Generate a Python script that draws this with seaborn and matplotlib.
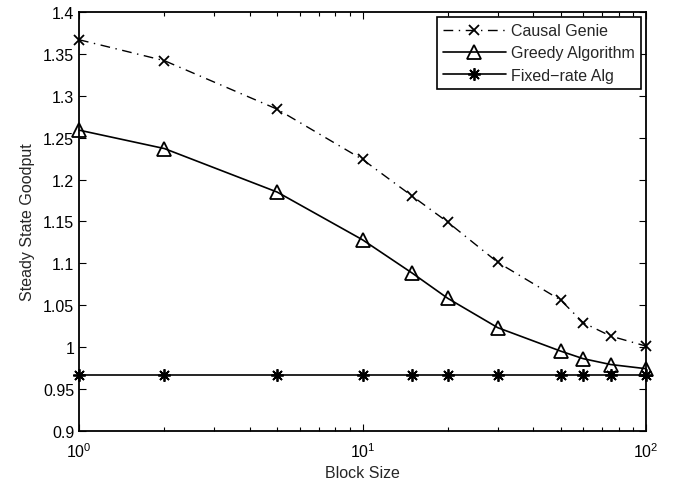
import numpy as np
import pandas as pd
import matplotlib
matplotlib.use("Agg")
import matplotlib.pyplot as plt
import seaborn as sns

block_size = [1, 2, 5, 10, 15, 20, 30, 50, 60, 75, 100]
causal_genie = [1.367, 1.342, 1.284, 1.224, 1.180, 1.149, 1.101, 1.056, 1.029, 1.013, 1.001]
greedy_alg = [1.259, 1.237, 1.185, 1.128, 1.088, 1.058, 1.023, 0.995, 0.986, 0.979, 0.974]
fixed_rate = [0.967] * len(block_size)

sns.set_style("ticks")
plt.rcParams["font.family"] = ["Liberation Sans", "DejaVu Sans"]
plt.rcParams["xtick.direction"] = "in"
plt.rcParams["ytick.direction"] = "in"
plt.rcParams["xtick.top"] = True
plt.rcParams["ytick.right"] = True
plt.rcParams["xtick.minor.visible"] = True

fs = 11.5
fig = plt.figure(figsize=(6.84, 4.85), dpi=100)
ax = fig.add_axes([0.1155, 0.110, 0.829, 0.863])

sns.lineplot(x=block_size, y=causal_genie, ax=ax, color="black", lw=1,
             marker="x", markersize=7, markeredgewidth=1.3, markeredgecolor="black",
             clip_on=False, label="Causal Genie")
ax.lines[-1].set_dashes((7, 4, 1, 4))
sns.lineplot(x=block_size, y=greedy_alg, ax=ax, color="black", lw=1.2,
             marker="^", markersize=10, markerfacecolor="none",
             markeredgecolor="black", markeredgewidth=1.3, clip_on=False,
             label="Greedy Algorithm")
sns.lineplot(x=block_size, y=fixed_rate, ax=ax, color="black", lw=1.2,
             marker=(8, 2, 0), markersize=9, markeredgewidth=1.3,
             markeredgecolor="black", clip_on=False, label="Fixed\u2212rate Alg")

ax.set_xscale("log")
ax.set_xlim(1, 100)
ax.set_ylim(0.9, 1.4)
ax.set_yticks(np.arange(0.9, 1.401, 0.05))
ax.set_yticklabels(["0.9", "0.95", "1", "1.05", "1.1", "1.15", "1.2", "1.25", "1.3", "1.35", "1.4"])
ax.tick_params(which="both", labelsize=fs, colors="black", width=0.8)
ax.tick_params(which="major", length=5)
ax.tick_params(which="minor", length=3)
ax.tick_params(axis="x", which="major", pad=8)
for s in ax.spines.values():
    s.set_linewidth(1.3)
    s.set_color("black")
ax.set_xlabel("Block Size", fontsize=fs, labelpad=3)
ax.set_ylabel("Steady State Goodput", fontsize=fs, labelpad=6)

leg = ax.legend(loc="upper right", fontsize=fs, fancybox=False, framealpha=1,
                edgecolor="black", handlelength=3.9, handletextpad=0.35,
                borderpad=0.4, labelspacing=0.45, borderaxespad=0.3)
leg.get_frame().set_linewidth(1.2)

fig.savefig("out.png", dpi=100)
